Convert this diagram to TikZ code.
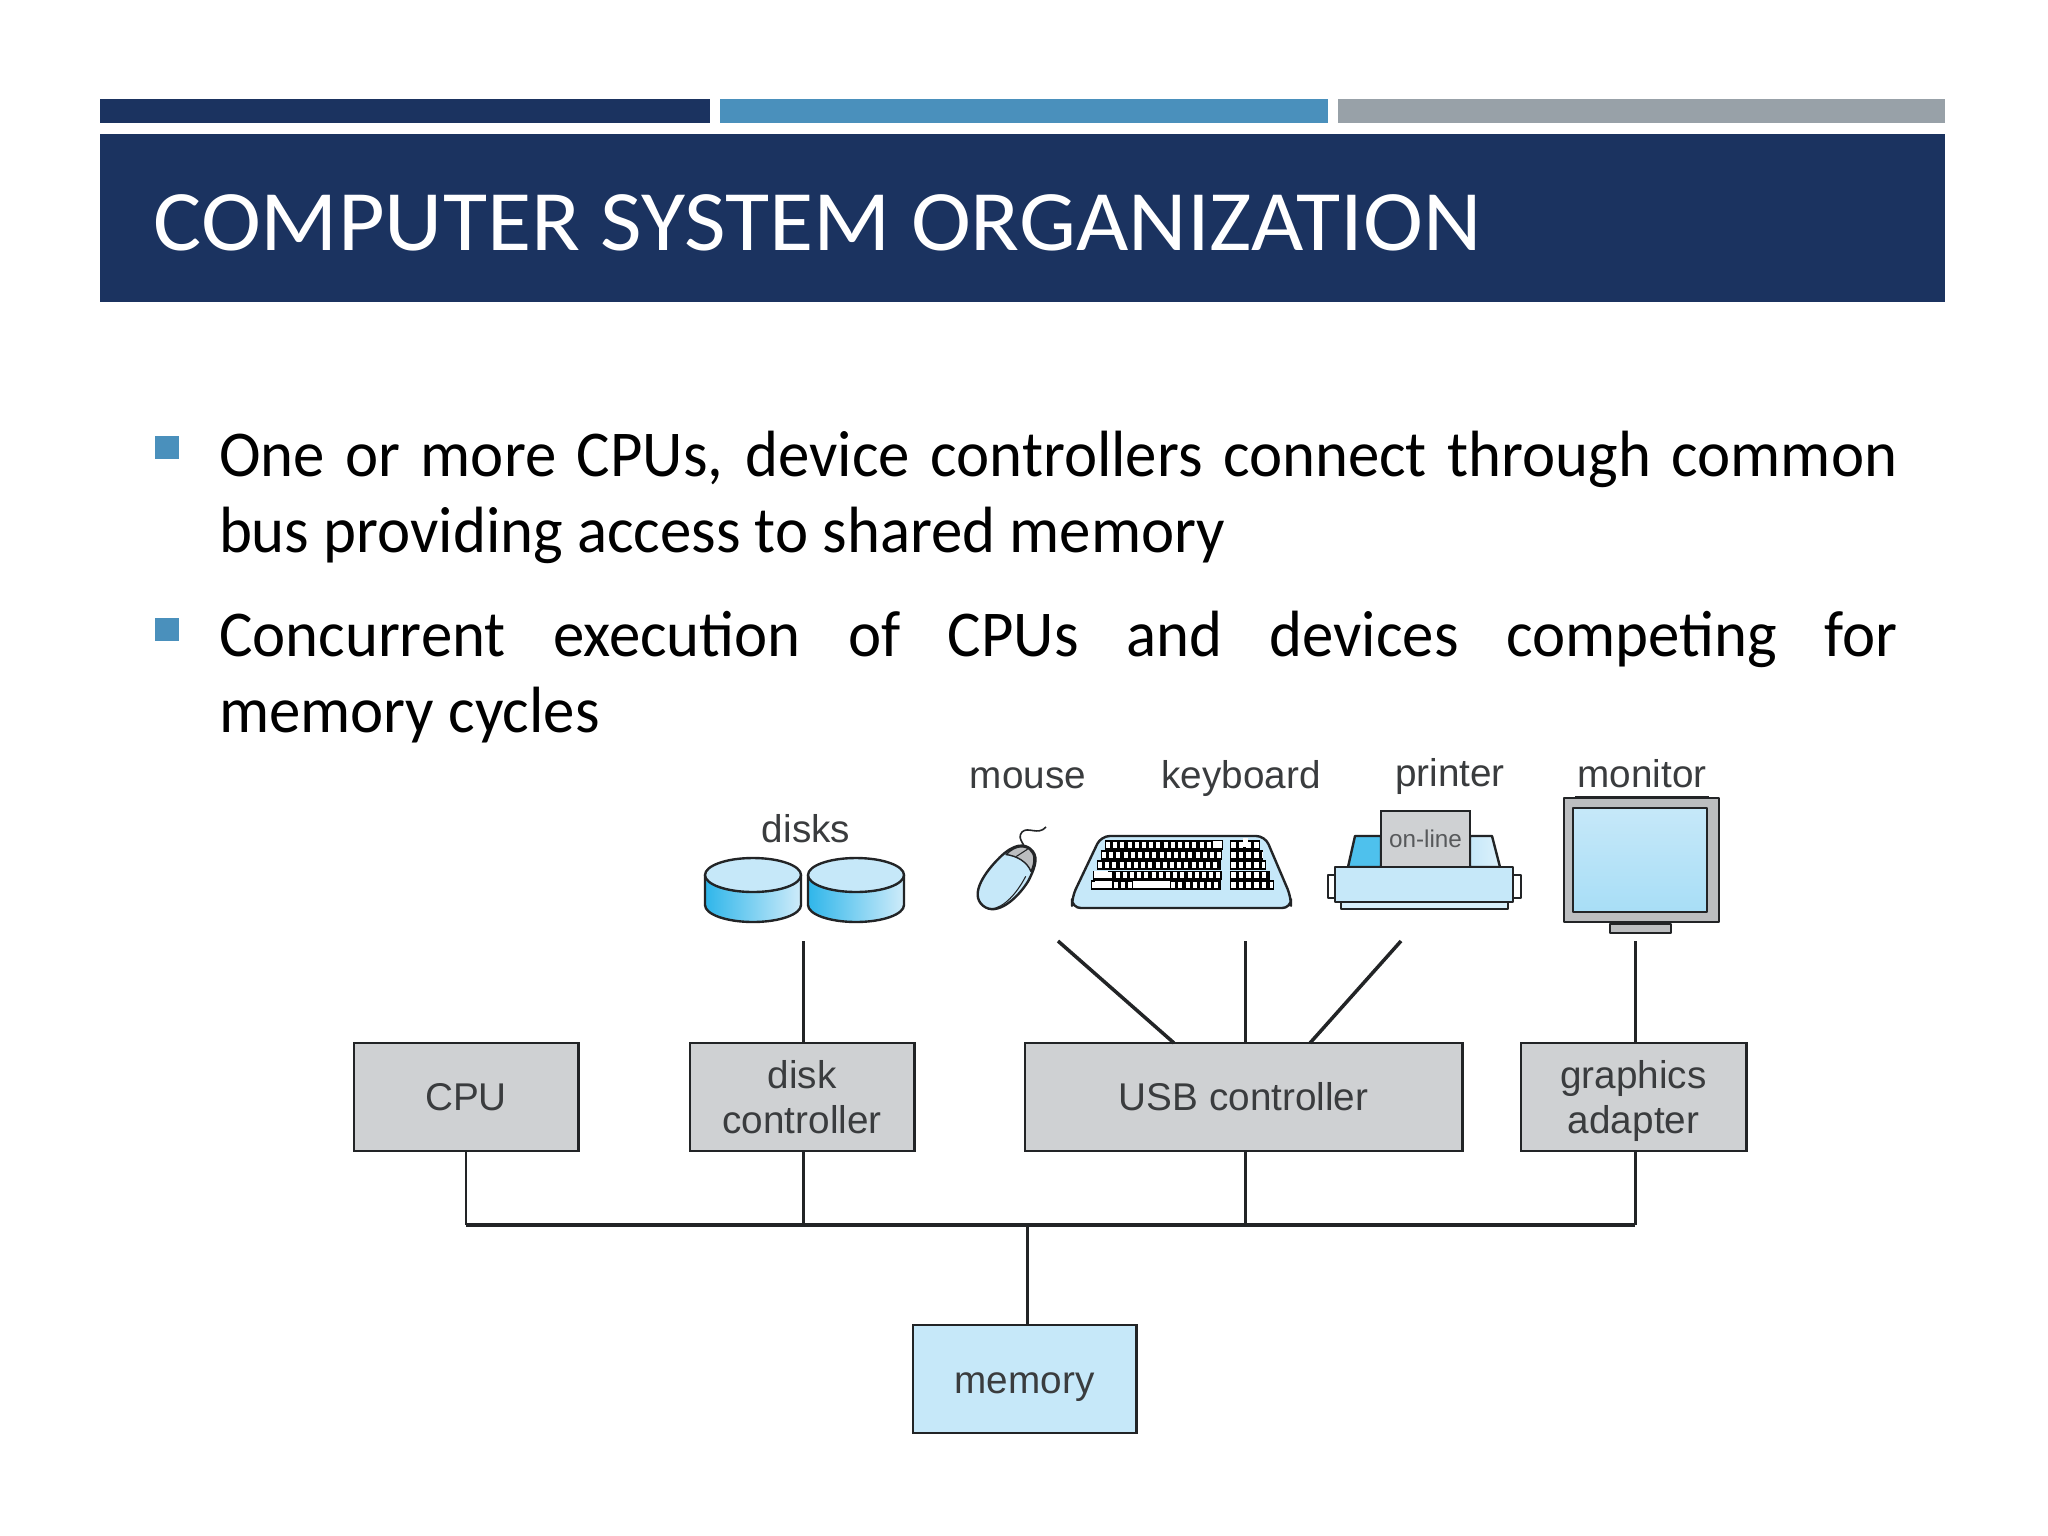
\documentclass[tikz,border=0pt]{standalone}
\usepackage{fontspec}
\usepackage{graphicx}
\setmainfont{Carlito}
\newfontfamily\labelfont{Liberation Sans}
\definecolor{navy}{HTML}{1B3360}
\definecolor{midblue}{HTML}{4A90BC}
\definecolor{steel}{HTML}{98A1A8}
\definecolor{boxgray}{HTML}{CFD1D3}
\definecolor{pale}{HTML}{C6E8F9}
\definecolor{cyanish}{HTML}{2FB6EA}
\definecolor{ink}{HTML}{222426}
\definecolor{labelgray}{HTML}{3A3C3E}
\definecolor{framegray}{HTML}{BCBEC0}
\newcommand{\bodyfit}[1]{\scalebox{0.96}[1]{#1}}
\tikzset{
  x=0.01cm,y=-0.01cm,
  band/.style={fill=#1,draw=none},
  bodyline/.style={anchor=base west,inner sep=0pt,outer sep=0pt,font=\fontsize{18.6}{22}\selectfont,text=black},
  lbl/.style={inner sep=0pt,outer sep=0pt,text=labelgray,font=\labelfont\fontsize{11}{12.6}\selectfont,anchor=base},
  unit/.style={draw=ink,line width=0.8pt,fill=boxgray,inner sep=0pt,outer sep=0pt,text=labelgray,align=center,
     font=\labelfont\fontsize{11}{12.6}\selectfont,minimum height=1.08cm,anchor=north west},
  wire/.style={draw=ink,line width=0.85pt},
  buswire/.style={draw=ink,line width=1.2pt},
  art/.style={draw=ink,line width=0.68pt,line join=round},
}
\begin{document}
\begin{tikzpicture}
\useasboundingbox (0,0) rectangle (2048,1536);
\fill[white] (0,0) rectangle (2048,1536);
% header
\fill[band=navy] (100,99) rectangle (710,123);
\fill[band=midblue] (720,99) rectangle (1328,123);
\fill[band=steel] (1338,99) rectangle (1945,123);
\fill[band=navy] (100,134) rectangle (1945,302);
\node[anchor=base west,inner sep=0pt,text=white,font=\fontsize{24.5}{28}\selectfont] (title) at (153,250) {\scalebox{1.049}[1]{COMPUTER SYSTEM ORGANIZATION}};
% bullets
\fill[band=midblue] (155,436) rectangle (179,459);
\fill[band=midblue] (155,618) rectangle (179,641);
\node[bodyline] (l1) at (219,476) {\bodyfit{\makebox[17.47cm][s]{One or more CPUs, device controllers connect through common}}};
\node[bodyline] (l2) at (219,552) {\bodyfit{bus providing access to shared memory}};
\node[bodyline] (l3) at (219,656) {\bodyfit{\makebox[17.47cm][s]{Concurrent execution of CPUs and devices competing for}}};
\node[bodyline] (l4) at (219,732) {\bodyfit{memory cycles}};
% device labels
\node[lbl] (ldisks) at (806,842) {disks};
\node[lbl] (lmouse) at (1028,788) {mouse};
\node[lbl] (lkeyb) at (1241,788) {keyboard};
\node[lbl] (lprint) at (1450,786) {printer};
\node[lbl] (lmon) at (1642,787) {monitor};
% disks
\foreach \cx in {753,856}{
\begin{scope}[shift={(\cx,0)}]
  \shade[left color=cyanish,right color=pale!85!white] (-48,875) -- (-48,905) .. controls (-48,914.4) and (-26.5,922) .. (0,922) .. controls (26.5,922) and (48,914.4) .. (48,905) -- (48,875) -- cycle;
  \draw[art] (-48,875) -- (-48,905) .. controls (-48,914.4) and (-26.5,922) .. (0,922) .. controls (26.5,922) and (48,914.4) .. (48,905) -- (48,875);
  \draw[art,fill=pale] (0,875) ellipse [x radius=48,y radius=17];
\end{scope}}
% mouse
\draw[art,line width=0.45pt] (1024,856) .. controls (1030,846) and (1015,840) .. (1022,832) .. controls (1028,826) and (1038,836) .. (1046,827);
\begin{scope}[shift={(1006,878)},rotate=50]
  \draw[art,fill=pale] (-36,0) .. controls (-36,-18) and (-8,-20) .. (12,-18) .. controls (32,-16) and (38,-8) .. (38,0) .. controls (38,10) and (30,15) .. (12,19) .. controls (-8,22) and (-36,18) .. (-36,0) -- cycle;
  \draw[art,fill=framegray,line width=0.4pt] (18,-15) .. controls (32,-14) and (37,-6) .. (37,0) .. controls (37,7) and (31,12) .. (21,15) .. controls (26,6) and (24,-6) .. (18,-15) -- cycle;
  \draw[art,line width=0.3pt] (23,-6) -- (36,-2);
  \draw[art,line width=0.3pt] (-34,8) .. controls (-24,18) and (-4,18) .. (14,14);
\end{scope}
% keyboard
\draw[art,fill=pale,rounded corners=2.5pt] (1101,836) -- (1265,836) -- (1291,897) -- (1291,908) -- (1072,908) -- (1072,897) -- cycle;
\foreach \yy/\xa/\xb/\xc/\xd/\hh in {845/1105/1223/1230/1260/10,855/1101/1222/1230/1263/10,865/1097/1221/1230/1266/10,875/1093/1222/1230/1270/9,885/1091/1221/1230/1274/10}{
  \draw[draw=black,line width=\hh*0.2845pt] (\xa,\yy) -- (\xb,\yy) (\xc,\yy) -- (\xd,\yy);
  \draw[draw=white,line width=\hh*0.19pt,dash pattern=on 0.04cm off 0.032cm] (\xa+1,\yy) -- (\xb-1,\yy);
  \draw[draw=white,line width=\hh*0.19pt,dash pattern=on 0.045cm off 0.032cm] (\xc+1,\yy) -- (\xd-1,\yy);
}
\fill[white] (1133,881) rectangle (1170,888);
\fill[white] (1095,881) rectangle (1112,888);
\fill[white] (1094,871) rectangle (1108,878);
\fill[white] (1213,841) rectangle (1222,848);
\fill[white] (1243,838) rectangle (1248,847);
% printer
\draw[art,fill=cyanish!85!white] (1348,867) -- (1355,836) -- (1381,836) -- (1381,867) -- cycle;
\draw[art,left color=pale,right color=pale!60!white] (1470,867) -- (1470,836) -- (1492,836) -- (1500,867) -- cycle;
\node[draw=ink,line width=0.6pt,fill=boxgray,minimum width=0.89cm,minimum height=0.56cm,inner sep=0pt,outer sep=0pt,anchor=north west,text=labelgray!85!white,font=\labelfont\fontsize{6.9}{8}\selectfont] (paper) at (1381,811) {on-line};
\draw[art,fill=white] (1328,875) rectangle (1335,898);
\draw[art,fill=white] (1513,875) rectangle (1521,898);
\draw[art,fill=pale!70!white] (1341,902) rectangle (1508,909);
\draw[art,fill=pale] (1335,867) rectangle (1513,902);
% monitor
\draw[art,fill=framegray] (1610,924) rectangle (1671,933);
\draw[art,fill=framegray,line width=0.3pt] (1622,922) rectangle (1662,924);
\draw[art,fill=framegray] (1564,798) rectangle (1719,922);
\draw[draw=ink,line width=0.7pt] (1575,797) -- (1709,797);
\draw[art,top color=pale,bottom color=pale!80!cyanish] (1573,808) rectangle (1707,912);
% controllers
\node[unit,minimum width=2.24cm] (cpu) at (354,1043) {CPU};
\node[unit,minimum width=2.24cm] (dc) at (690,1043) {disk\\controller};
\node[unit,minimum width=4.37cm] (usb) at (1025,1043) {USB controller};
\node[unit,minimum width=2.25cm] (ga) at (1521,1043) {\rule{0pt}{10.3pt}graphics\\adapter};
\node[unit,minimum width=2.23cm,fill=pale] (mem) at (913,1325) {\raisebox{0pt}[0.28cm][0pt]{memory}};
% free ends of the device links and bus junctions
\coordinate (diskend) at (803.5,941);
\coordinate (mouseend) at (1058,941);
\coordinate (keybend) at (1245,941);
\coordinate (printend) at (1401,941);
\coordinate (monend) at (1635,941);
\coordinate (busL) at (466,1225);
\coordinate (busR) at (1635,1225);
\coordinate (usbM) at (1174,1043);
\coordinate (usbP) at (1310,1043);
\coordinate (busD) at (803.5,1225);
\coordinate (busU) at (1245,1225);
\coordinate (busM) at (1027,1225);
% connectors
\draw[wire] (diskend) -- (diskend |- dc.north);
\draw[wire,line width=1pt] (mouseend) -- (usbM);
\draw[wire] (keybend) -- (keybend |- usb.north);
\draw[wire,line width=1pt] (printend) -- (usbP);
\draw[wire] (monend) -- (monend |- ga.north);
\draw[wire] (busL |- cpu.south) -- (busL);
\draw[wire] (busD |- dc.south) -- (busD);
\draw[wire] (busU |- usb.south) -- (busU);
\draw[wire] (busR |- ga.south) -- (busR);
\draw[buswire] (busL) -- (busR);
\draw[wire] (busM) -- (busM |- mem.north);
\end{tikzpicture}
\end{document}
